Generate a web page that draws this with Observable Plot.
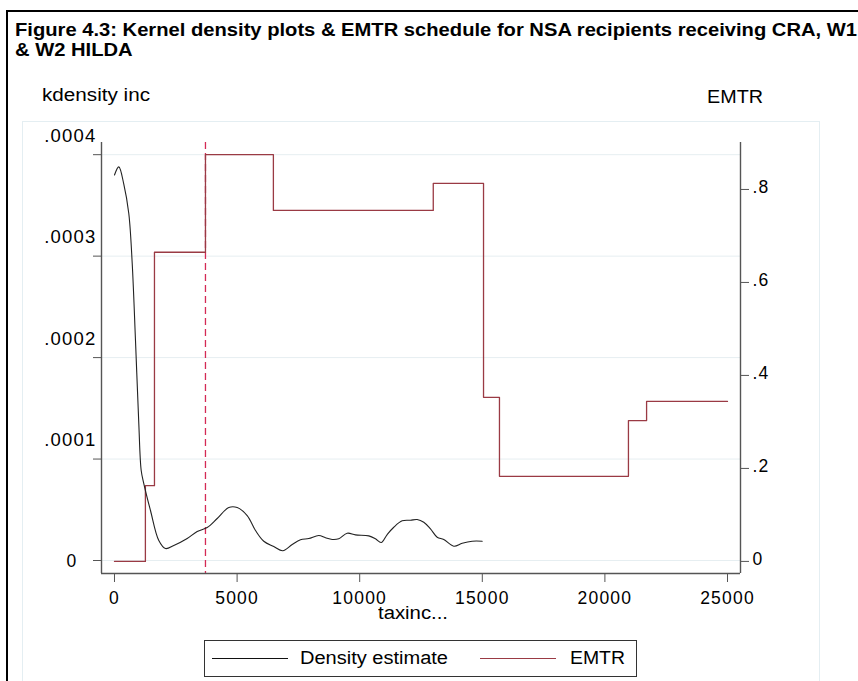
<!DOCTYPE html>
<html>
<head>
<meta charset="utf-8">
<script src="https://cdn.jsdelivr.net/npm/d3@7"></script>
<script src="https://cdn.jsdelivr.net/npm/@observablehq/plot@0.6"></script>
<style>
  html, body { margin: 0; padding: 0; background: #fff; }
  body { width: 858px; height: 681px; overflow: hidden; position: relative;
         font-family: "Liberation Sans", Arial, Helvetica, sans-serif; }
  #outer { position: absolute; left: 6px; top: 10px; width: 900px; height: 720px;
           border: 2px solid #000; box-sizing: border-box; }
  #inner { position: absolute; left: 22px; top: 121px; width: 798px; height: 620px;
           border: 1px solid #e4eef2; box-sizing: border-box; }
  #chart { position: absolute; left: 0; top: 0; }
  #chart svg text { letter-spacing: 1.2px; }
  .t { position: absolute; white-space: nowrap; transform-origin: 0 0; color: #000; }
  .title { font-weight: bold; font-size: 18.5px; line-height: 20px; }
  .lab { font-size: 18px; line-height: 20px; }
  #legend { position: absolute; left: 204px; top: 640px; width: 433px; height: 37px;
            border: 1px solid #333; box-sizing: border-box; background: #fff; }
  .lline { position: absolute; height: 0; }
</style>
</head>
<body>
<div id="outer"></div>
<div id="inner"></div>
<div id="chart"></div>
<div class="t title" id="title1" data-w="842" style="left:15px; top:20px;">Figure 4.3: Kernel density plots &amp; EMTR schedule for NSA recipients receiving CRA, W1</div>
<div class="t title" id="title2" data-k="title1" style="left:15px; top:40px;">&amp; W2 HILDA</div>
<div class="t lab" data-w="108" style="left:42px; top:85px;">kdensity inc</div>
<div class="t lab" data-w="56" style="left:707px; top:87px;">EMTR</div>
<div class="t lab" data-w="70" style="left:378px; top:603px;">taxinc...</div>
<div id="legend"></div>
<div class="lline" style="left:212px; top:658px; width:76px; border-top:1px solid #111;"></div>
<div class="t lab" data-w="148" style="left:300px; top:648px;">Density estimate</div>
<div class="lline" style="left:480px; top:658px; width:76px; border-top:1px solid #9a3a44;"></div>
<div class="t lab" data-w="55" style="left:570px; top:648px;">EMTR</div>
<script>
// ---- Data ----
// Kernel density estimate of taxable income
const densX = [0, 175, 379, 583, 722, 856, 991, 1089, 1195, 1468, 1807, 2080, 2418, 2965, 3373, 3780,
  4188, 4661, 5004, 5411, 5750, 6088, 6496, 6863, 7247, 7585, 7924, 8332, 8605, 8878, 9147, 9490,
  9828, 10371, 10644, 10876, 11121, 11390, 11732, 12071, 12344, 12613, 12886, 13160, 13429, 13837,
  14180, 14587, 14995];
const densY = [0.000380, 0.000388, 0.000371, 0.000342, 0.000293, 0.000217, 0.000135, 0.0000887,
  0.0000759, 0.0000493, 0.0000197, 0.0000118, 0.0000148, 0.0000217, 0.0000286, 0.0000325,
  0.0000414, 0.0000522, 0.0000522, 0.0000443, 0.0000296, 0.0000190, 0.0000138, 0.0000096,
  0.0000158, 0.0000204, 0.0000217, 0.0000246, 0.0000224, 0.0000207, 0.0000214, 0.0000269,
  0.0000253, 0.0000243, 0.0000214, 0.0000177, 0.0000256, 0.0000328, 0.0000391, 0.0000397,
  0.0000404, 0.0000377, 0.0000312, 0.0000230, 0.0000207, 0.0000141, 0.0000170, 0.0000190,
  0.0000190];
// EMTR schedule (step starts)
const emtrX = [0, 1260, 1630, 3710, 6480, 13000, 15050, 15700, 20960, 21700, 25000];
const emtrY = [0, 0.163, 0.665, 0.875, 0.755, 0.813, 0.353, 0.183, 0.303, 0.344, 0.344];
const cutoffX = [3710];
// Axes
const xTicks = [0, 5000, 10000, 15000, 20000, 25000];
const xLabels = ["0", "5000", "10000", "15000", "20000", "25000"];
const densTicks = [0, 0.0001, 0.0002, 0.0003, 0.0004];
const densLabels = ["0", ".0001", ".0002", ".0003", ".0004"];
const emtrTicks = [0, 0.2, 0.4, 0.6, 0.8];
const emtrLabels = ["0", ".2", ".4", ".6", ".8"];

const xDomain = [-530, 25530];
const dDomain = [-0.0000128, 0.000412];
const eDomain = [-0.026, 0.901];
const toD = e => dDomain[0] + (e - eDomain[0]) / (eDomain[1] - eDomain[0]) * (dDomain[1] - dDomain[0]);

const dens = densX.map((x, i) => ({x, y: densY[i]}));
const emtr = emtrX.map((x, i) => ({x, y: toD(emtrY[i])}));
const dTickRows = densTicks.map((v, i) => ({v, label: densLabels[i]}));
const eTickRows = emtrTicks.map((v, i) => ({v: toD(v), label: emtrLabels[i]}));

const axisGray = "#555";
const chart = Plot.plot({
  width: 858, height: 681,
  marginLeft: 101, marginRight: 118, marginTop: 142, marginBottom: 108,
  style: {background: "transparent", fontFamily: "'Liberation Sans', Arial, sans-serif", fontSize: "17.5px", color: "#000", overflow: "visible"},
  x: {domain: xDomain},
  y: {domain: dDomain},
  marks: [
    Plot.ruleY(densTicks, {stroke: "#e6eef1", strokeWidth: 1}),
    Plot.ruleX(cutoffX, {stroke: "#d42a55", strokeWidth: 1.3, strokeDasharray: "7,4"}),
    Plot.line(emtr, {x: "x", y: "y", curve: "step-after", stroke: "#9a3a44", strokeWidth: 1.3}),
    Plot.line(dens, {x: "x", y: "y", curve: "catmull-rom", stroke: "#222", strokeWidth: 1.1}),
    // axis lines
    Plot.ruleY([dDomain[0]], {stroke: axisGray, strokeWidth: 1.4}),
    Plot.ruleX([xDomain[0]], {stroke: axisGray, strokeWidth: 1.4}),
    Plot.ruleX([xDomain[1]], {stroke: axisGray, strokeWidth: 1.4}),
    // x axis
    Plot.axisX({ticks: xTicks, tickFormat: d => xLabels[xTicks.indexOf(d)], tickSize: 9, tickPadding: 9,
      stroke: axisGray, fill: "#000", label: null}),
    // left axis ticks and labels
    Plot.axisY({anchor: "left", ticks: densTicks, tickFormat: () => "", tickSize: 8, stroke: axisGray, label: null}),
    Plot.text(dTickRows.filter(d => d.v !== 0), {y: "v", text: "label", frameAnchor: "left", textAnchor: "end", dx: -5, dy: -19, fill: "#000", fontSize: 18.5}),
    Plot.text(dTickRows.filter(d => d.v === 0), {y: "v", text: "label", frameAnchor: "left", textAnchor: "end", dx: -24, dy: 1, fill: "#000"}),
    // right axis (EMTR)
    Plot.axisY({anchor: "right", ticks: eTickRows.map(d => d.v), tickFormat: () => "", tickSize: 8, stroke: axisGray, label: null}),
    Plot.text(eTickRows, {y: "v", text: "label", frameAnchor: "right", textAnchor: "start", dx: 12, dy: -2, fill: "#000"})
  ]
});
document.getElementById("chart").appendChild(chart);

// fit the HTML labels' widths to the reference lettering
const scales = {};
document.querySelectorAll(".t").forEach(el => {
  const w = el.getAttribute("data-w");
  let k = 1.14;
  if (w) k = (+w) / el.getBoundingClientRect().width;
  else if (el.getAttribute("data-k")) k = scales[el.getAttribute("data-k")] || 1;
  scales[el.id] = k;
  el.style.transform = `scaleX(${k})`;
});
</script>
</body>
</html>
